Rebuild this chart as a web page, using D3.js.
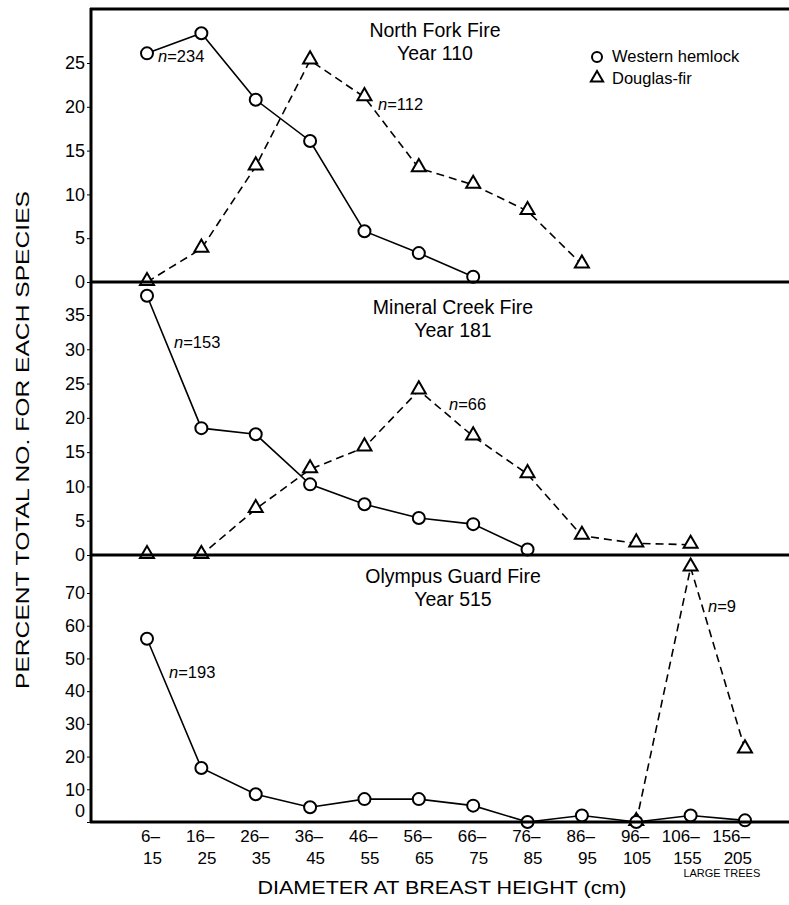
<!DOCTYPE html>
<html>
<head>
<meta charset="utf-8">
<script src="https://cdn.jsdelivr.net/npm/d3@7"></script>
<style>
  body { margin: 0; background: #fff; }
  svg { display: block; font-family: "Liberation Sans", Arial, Helvetica, sans-serif; }
  .frame { stroke: #000; stroke-width: 3; fill: none; }
  .hem { fill: none; stroke: #000; stroke-width: 1.6; }
  .dfir { fill: none; stroke: #000; stroke-width: 1.6; stroke-dasharray: 8 5; }
  .dot { fill: #fff; stroke: #000; stroke-width: 2; }
</style>
</head>
<body>
<svg id="chart" width="789" height="905"></svg>
<script>
// diameter classes (cm)
var categories = ["6-15", "16-25", "26-35", "36-45", "46-55", "56-65",
                  "66-75", "76-85", "86-95", "96-105", "106-155", "156-205"];

// percent of total number (null = not plotted)
var hemlockNorthFork = [26.1, 28.4, 20.8, 16.1, 5.8, 3.3, 0.6, null, null, null, null, null];
var douglasNorthFork = [0, 3.8, 13.2, 25.3, 21.1, 13.0, 11.1, 8.1, 2.0, null, null, null];
var hemlockMineral   = [37.8, 18.5, 17.6, 10.3, 7.4, 5.4, 4.5, 0.8, null, null, null, null];
var douglasMineral   = [0, 0, 6.7, 12.5, 15.7, 24.0, 17.3, 11.8, 2.8, 1.7, 1.5, null];
var hemlockOlympus   = [56, 16.5, 8.5, 4.5, 7, 7, 5, 0, 2, 0, 2, 0.5];
var douglasOlympus   = [null, null, null, null, null, null, null, null, null, 0, 77.8, 22.2];

var panelTitles = [["North Fork Fire", "Year 110"],
                   ["Mineral Creek Fire", "Year 181"],
                   ["Olympus Guard Fire", "Year 515"]];
var sampleSizes = [["n=234", "n=112"], ["n=153", "n=66"], ["n=193", "n=9"]];
var yTicks = [[0, 5, 10, 15, 20, 25],
              [0, 5, 10, 15, 20, 25, 30, 35],
              [0, 10, 20, 30, 40, 50, 60, 70]];
var yMax = [25, 35, 70];

var svg = d3.select("#chart");
var left = 91, right = 789;

var x = d3.scalePoint().domain(categories).range([147, 745]);

// layout of each panel (pixel geometry, kept apart from the data)
var panels = [
  { top: 9,   base: 282, maxY: 63,  hem: hemlockNorthFork, df: douglasNorthFork,
    titleX: 435, titleY: 37,
    nHem: [158, 62], nDf: [378, 110] },
  { top: 282, base: 555, maxY: 315, hem: hemlockMineral, df: douglasMineral,
    titleX: 453, titleY: 314,
    nHem: [174, 348], nDf: [449, 410] },
  { top: 555, base: 822, maxY: 593, hem: hemlockOlympus, df: douglasOlympus,
    titleX: 453, titleY: 583,
    nHem: [169, 678], nDf: [708, 612] }
];

var triangle = d3.symbol().type(d3.symbolTriangle).size(85);

panels.forEach(function(p, i) {
  var y = d3.scaleLinear().domain([0, yMax[i]]).range([p.base, p.maxY]);
  var g = svg.append("g");

  // y ticks
  var ax = g.append("g").attr("transform", "translate(" + left + ",0)")
    .call(d3.axisLeft(y).tickValues(yTicks[i]).tickSize(4).tickPadding(2).tickFormat(d3.format("d")));
  ax.select(".domain").remove();
  ax.selectAll("text").attr("font-size", 18).attr("font-family", "Liberation Sans, Arial, sans-serif");
  if (i === 2) ax.selectAll(".tick").filter(function(d) { return d === 0; }).select("text").attr("dy", "-0.3em");

  // title
  g.append("text").attr("x", p.titleX).attr("y", p.titleY).attr("text-anchor", "middle")
    .attr("font-size", 19.5).text(panelTitles[i][0]);
  g.append("text").attr("x", p.titleX).attr("y", p.titleY + 23).attr("text-anchor", "middle")
    .attr("font-size", 19.5).text(panelTitles[i][1]);

  var line = d3.line()
    .defined(function(d) { return d != null; })
    .x(function(d, j) { return x(categories[j]); })
    .y(function(d) { return y(d); });

  g.append("path").attr("class", "dfir").attr("d", line(p.df));
  g.append("path").attr("class", "hem").attr("d", line(p.hem));

  var dfPts = p.df.map(function(v, j) { return { c: categories[j], v: v }; }).filter(function(d) { return d.v != null; });
  var hemPts = p.hem.map(function(v, j) { return { c: categories[j], v: v }; }).filter(function(d) { return d.v != null; });

  g.selectAll(".tri").data(dfPts).enter().append("path")
    .attr("class", "dot")
    .attr("d", triangle)
    .attr("transform", function(d) { return "translate(" + x(d.c) + "," + (y(d.v) - 1) + ")"; });

  g.selectAll(".circ").data(hemPts).enter().append("circle")
    .attr("class", "dot")
    .attr("cx", function(d) { return x(d.c); })
    .attr("cy", function(d) { return y(d.v); })
    .attr("r", 6);

  // sample sizes
  [[p.nHem, sampleSizes[i][0]], [p.nDf, sampleSizes[i][1]]].forEach(function(s) {
    var t = g.append("text").attr("x", s[0][0]).attr("y", s[0][1]).attr("font-size", 16.5);
    t.append("tspan").attr("font-style", "italic").text("n");
    t.append("tspan").text(s[1].slice(1));
  });
});

// frame: left axis and panel rules
svg.append("line").attr("class", "frame").attr("x1", left).attr("x2", left).attr("y1", 8).attr("y2", 823);
[9, 282, 555, 822].forEach(function(v) {
  svg.append("line").attr("class", "frame").attr("x1", left - 1).attr("x2", right).attr("y1", v).attr("y2", v);
});

// x labels
var xl = svg.append("g");
categories.forEach(function(c, j) {
  var parts = c.split("-");
  var shift = j === 10 ? -4 : j === 11 ? -8 : 0;
  xl.append("text").attr("x", x(c) + 13 + shift).attr("y", 842).attr("text-anchor", "end")
    .attr("font-size", 17).text(parts[0] + "\u2013");
  xl.append("text").attr("x", x(c) + 15 + shift).attr("y", 864).attr("text-anchor", "end")
    .attr("font-size", 17).text(parts[1]);
});
xl.append("text").attr("x", (x("106-155") + x("156-205")) / 2 + 4).attr("y", 877).attr("text-anchor", "middle")
  .attr("font-size", 11).text("LARGE TREES");

svg.append("text").attr("x", 442).attr("y", 894).attr("text-anchor", "middle")
  .attr("font-size", 19).attr("textLength", 369).attr("lengthAdjust", "spacingAndGlyphs")
  .text("DIAMETER  AT BREAST HEIGHT (cm)");

svg.append("text").attr("transform", "translate(29,440) rotate(-90)").attr("text-anchor", "middle")
  .attr("font-size", 19).attr("textLength", 498).attr("lengthAdjust", "spacingAndGlyphs")
  .text("PERCENT TOTAL NO. FOR EACH SPECIES");

// legend
var lg = svg.append("g");
lg.append("circle").attr("class", "dot").attr("cx", 597).attr("cy", 57).attr("r", 5).attr("stroke-width", 2.5);
lg.append("text").attr("x", 612).attr("y", 62).attr("font-size", 16.5).text("Western hemlock");
lg.append("path").attr("class", "dot").attr("d", d3.symbol().type(d3.symbolTriangle).size(65))
  .attr("stroke-width", 2.5).attr("transform", "translate(597,78)");
lg.append("text").attr("x", 612).attr("y", 84).attr("font-size", 16.5).text("Douglas-fir");
</script>
</body>
</html>
